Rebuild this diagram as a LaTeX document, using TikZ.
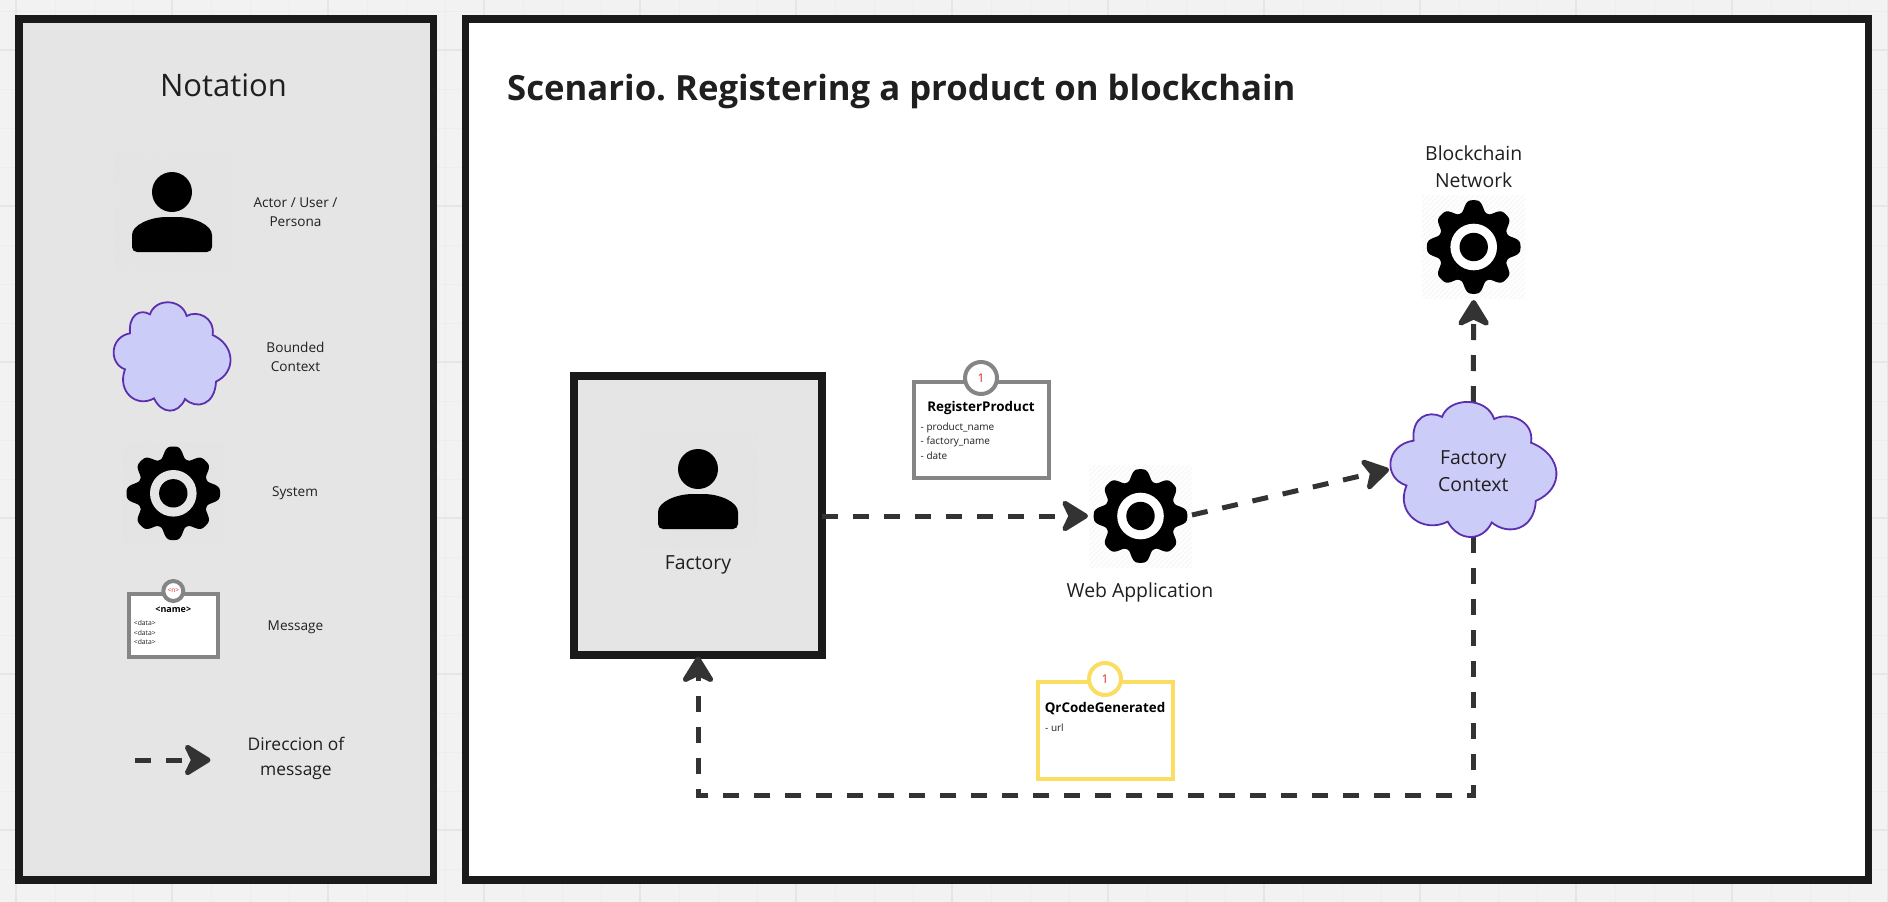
\documentclass[tikz,border=0pt]{standalone}
\usepackage{fontspec}
\setmainfont{Open Sans}
\usetikzlibrary{arrows.meta,patterns.meta}
\frenchspacing
\definecolor{pagebg}{HTML}{F2F2F2}
\definecolor{gridmin}{HTML}{EDEDED}
\definecolor{gridmaj}{HTML}{E6E6E6}
\definecolor{frame}{HTML}{1A1A1A}
\definecolor{panelgray}{HTML}{E5E5E5}
\definecolor{cloudfill}{HTML}{CCCCF9}
\definecolor{cloudline}{HTML}{5B2FAE}
\definecolor{arrowc}{HTML}{333333}
\definecolor{cardgray}{HTML}{858585}
\definecolor{cardyellow}{HTML}{FBDD62}
\definecolor{txt}{HTML}{1F1F1F}
\definecolor{numred}{HTML}{E02424}
\newcommand{\fsz}[1]{\fontsize{#1}{#1}\selectfont}
\newcommand{\cloudpath}{(450,943) .. controls (465,894) and (545,894) .. (560,948)
 .. controls (590,930) and (645,950) .. (638,1005)
 .. controls (705,1035) and (710,1115) .. (648,1145)
 .. controls (645,1215) and (590,1230) .. (555,1197)
 .. controls (535,1244) and (485,1244) .. (462,1195)
 .. controls (410,1225) and (350,1175) .. (375,1108)
 .. controls (325,1090) and (330,1010) .. (390,1000)
 .. controls (385,945) and (420,925) .. (450,943) -- cycle}
\newcommand{\tile}[6]{%
 \fill[#5] (#1-#3,#2-#4) rectangle (#1+#3,#2+#4);
 \fill[pattern={Lines[angle=45,distance=3.5pt,line width=1.2pt]},pattern color=#6] (#1-#3,#2-#4) rectangle (#1+#3,#2+#4);}
\newcommand{\gearicon}[3]{%
 \begin{scope}[shift={(#1,#2)}]
 \fill[black] plot[domain=0:360,samples=361] (\x:{36+10.8*(1-0.1*(0.5-0.5*cos(4*\x)))*gg(\x)}) -- cycle;
 \fill[#3] (0,0) circle[radius=23.3];
 \fill[black] (0,0) circle[radius=14.2];
 \end{scope}}
\newcommand{\actoricon}[2]{%
 \begin{scope}[shift={(#1,#2)}]
 \fill[black] (0,0) circle[radius=20];
 \fill[black,rounded corners=5pt] (-40,60) -- (-40,48) .. controls (-40,33) and (-22,25) .. (0,25) .. controls (22,25) and (40,33) .. (40,48) -- (40,60) -- cycle;
 \end{scope}}
\tikzset{
 declare function={gu(\t)=pow(0.5+0.5*cos(8*\t)+0.0005,0.75); gg(\t)=gu(\t)*gu(\t)*(3-2*gu(\t));},
 frameA/.style={draw=frame,line width=7.5pt,anchor=north west,inner sep=0pt,outer sep=0pt},
 lab/.style={text=txt,align=center,inner sep=0pt,font=\fsz{13.6}},
 labbig/.style={text=txt,align=center,inner sep=0pt,font=\fsz{19.4}},
 flow/.style={draw=arrowc,line width=5pt,dash pattern=on 16pt off 15pt,
   -{Stealth[length=31pt,width=38pt,inset=9pt,round,sep=0pt]},shorten >=1.5pt},
 cloudstyle/.style={fill=cloudfill,draw=cloudline,line width=1.8pt},
 cardbox/.style={draw=#1,line width=4pt,fill=white,inner sep=0pt,outer sep=0pt},
 badge/.style={circle,draw=#1,fill=white,inner sep=0pt,outer sep=0pt},
 ctitle/.style={font=\bfseries\fsz{13.4},text=black,inner sep=0pt},
 citem/.style={font=\fsz{10},text=txt,inner sep=0pt,anchor=west},
}
\begin{document}
\begin{tikzpicture}[x=1pt,y=-1pt]
\useasboundingbox (0,0) rectangle (1888,902);
\fill[pagebg] (0,0) rectangle (1888,902);
\foreach \k in {0,...,48} {\draw[gridmin,line width=1pt] ({16+39*\k},0) -- ({16+39*\k},902);}
\foreach \k in {0,...,23} {\draw[gridmin,line width=1pt] (0,{11+39*\k}) -- (1888,{11+39*\k});}
\foreach \k in {0,...,12} {\draw[gridmaj,line width=1.5pt] ({16+156*\k},0) -- ({16+156*\k},902);}
\foreach \k in {0,...,5} {\draw[gridmaj,line width=1.5pt] (0,{50+156*\k}) -- (1888,{50+156*\k});}
% panels
\node[frameA,fill=panelgray,minimum width=414.5pt,minimum height=861pt] (notation) at (19,19) {};
\node[frameA,fill=white,minimum width=1403pt,minimum height=861pt] (scenario) at (465.7,19) {};
\node[text=txt,font=\fsz{31},inner sep=0pt] (ntitle) at (223.5,85) {Notation};
\node[text=txt,font=\bfseries\fsz{34.7},inner sep=0pt,anchor=west] (stitle) at (507,91) {Scenario. Registering a product on blockchain};
% legend: actor
\tile{172.5}{211.5}{58.5}{58.5}{panelgray}{black!11}
\actoricon{172}{192}
\node[lab] (l1) at (295.5,212) {Actor / User /\\[5pt]Persona};
% legend: cloud
\begin{scope}[shift={(172,356.5)},scale=0.3333,shift={(-516,-1069.5)}]
\draw[cloudstyle] \cloudpath;
\end{scope}
\node[lab] (l2) at (295.5,357) {Bounded\\[5pt]Context};
% legend: gear
\tile{173.3}{493.3}{51}{51}{panelgray}{black!11}
\gearicon{173.3}{493.3}{panelgray}
\node[lab] (l3) at (295,493) {System};
% legend: message
\node[cardbox=cardgray,minimum width=88.5pt,minimum height=63pt,anchor=north west] (mcard) at (129.3,594) {};
\node[badge=cardgray,line width=4pt,minimum size=20pt] (mbadge) at (173.3,591) {\textcolor{numred}{\fsz{6.5}<n>}};
\node[font=\bfseries\fsz{9},inner sep=0pt,text=black] (mname) at (173.3,610) {<name>};
\node[citem,font=\fsz{6.8}] (md1) at (133.7,623) {<data>};
\node[citem,font=\fsz{6.8}] (md2) at (133.7,633) {<data>};
\node[citem,font=\fsz{6.8}] (md3) at (133.7,642) {<data>};
\node[lab] (l4) at (295.5,627) {Message};
% legend: arrow
\coordinate (lega) at (135,760);
\coordinate (legb) at (212,760);
\draw[flow] (lega) -- (legb);
\node[lab,font=\fsz{17.4}] (l5) at (296,758.5) {Direccion of\\[7.5pt]message};
% factory
\node[frameA,fill=panelgray,minimum width=248pt,minimum height=279pt] (factory) at (574,376) {};
\tile{698}{489.5}{59}{58.5}{panelgray}{black!11}
\actoricon{698}{469}
\node[labbig] (flabel) at (698,565) {Factory};
% web app
\tile{1140.5}{516}{51.5}{51}{white}{black!3}
\gearicon{1140.5}{516}{white}
\node[inner sep=0pt,outer sep=0pt,minimum size=102pt] (web) at (1140.5,516) {};
\node[labbig] (wlabel) at (1140,592) {Web Application};
% blockchain
\tile{1473.7}{247}{51.5}{51.5}{white}{black!3}
\gearicon{1473.7}{247}{white}
\node[inner sep=0pt,outer sep=0pt,minimum size=103pt] (chain) at (1473.7,247) {};
\node[labbig] (blabel) at (1473.7,167) {Blockchain\\[8pt]Network};
% connectors below the cloud
\node[inner sep=0pt,outer sep=0pt,minimum width=166.7pt,minimum height=135pt] (fctx) at (1473.3,469.5) {};
\coordinate (cr) at (1473.3,795);
\coordinate (cl) at (698,795);
\draw[flow] (fctx.north) -- (chain.south);
\draw[flow] (fctx.south) -- (cr) -- (cl) -- (factory.south);
\draw[flow] (factory.east |- web.west) -- (web.west);
\coordinate (fwest) at (1390.5,469);
\coordinate (wout) at (1192,515);
\draw[flow] (wout) -- (fwest);
% cloud
\begin{scope}[shift={(1473.3,469.5)},xscale=0.4736,yscale=0.4154,shift={(-516,-1069.5)}]
\draw[cloudstyle] \cloudpath;
\end{scope}
\node[labbig] (ftext) at (1473.3,471) {Factory\\[8pt]Context};
% register card
\node[cardbox=cardgray,minimum width=134.5pt,minimum height=96pt,anchor=north west] (rcard) at (914,382) {};
\node[badge=cardgray,line width=4pt,minimum size=32pt] (rbadge) at (981,378) {\textcolor{numred}{\fsz{12}1}};
\node[ctitle] (rname) at (981,408.5) {RegisterProduct};
\node[citem] (r1) at (920.5,428) {- product\_name};
\node[citem] (r2) at (920.5,442) {- factory\_name};
\node[citem] (r3) at (920.5,456) {- date};
% qr card
\node[cardbox=cardyellow,minimum width=135pt,minimum height=96.7pt,anchor=north west] (qcard) at (1037.8,682) {};
\node[badge=cardyellow,line width=4pt,minimum size=32pt] (qbadge) at (1105,679) {\textcolor{numred}{\fsz{12}1}};
\node[ctitle] (qname) at (1105,708.7) {QrCodeGenerated};
\node[citem] (q1) at (1045,727.7) {- url};
\end{tikzpicture}
\end{document}
